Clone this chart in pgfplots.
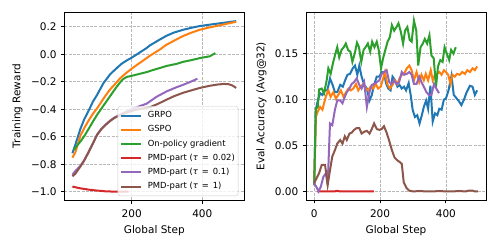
\documentclass[border=0pt]{standalone}
\usepackage{fontspec}
\setmainfont{DejaVu Sans}
\usepackage{pgfplots}
\pgfplotsset{compat=1.18}
\definecolor{cB}{HTML}{1F77B4}
\definecolor{cO}{HTML}{FF7F0E}
\definecolor{cG}{HTML}{2CA02C}
\definecolor{cR}{HTML}{D62728}
\definecolor{cP}{HTML}{9467BD}
\definecolor{cN}{HTML}{8C564B}
\newcommand{\tauq}[1]{({\itshape τ}\kern1.3pt\ =\ \kern1.3pt#1)}
\tikzset{pl/.style={draw=#1, line width=2pt, solid}}
\pgfplotsset{
 base/.style={
  scale only axis, width=180pt, height=187.7pt,
  font=\fontsize{10.5}{12.6}\selectfont,
  axis line style={line width=0.8pt},
  tick align=outside, tick pos=left,
  major tick length=3.5pt,
  every tick/.style={black, line width=0.8pt},
  grid=major,
  major grid style={line width=0.6pt, color=black!28, dash pattern=on 3pt off 1.3pt},
  xticklabel style={anchor=north, inner sep=0pt, yshift=-6.5pt},
  yticklabel style={anchor=east, inner sep=0pt, xshift=-4pt},
  xlabel style={at={(axis description cs:0.5,-0.176)}, anchor=base},
 }}
\begin{document}
\begin{tikzpicture}[x=1pt,y=1pt]
\useasboundingbox (0,0) rectangle (498,249);
\begin{axis}[base, at={(64.3pt,49pt)}, anchor=south west,
  xmin=9, xmax=519, ymin=-1.06, ymax=0.305,
  xtick={200,400}, xticklabels={200,400},
  ytick={-1,-0.8,-0.6,-0.4,-0.2,0,0.2},
  yticklabels={−1.0,−0.8,−0.6,−0.4,−0.2,0.0,0.2},
  xlabel={Global Step}, ylabel={Training Reward},
  ylabel style={at={(axis description cs:-0.26,0.5)}, anchor=center},
  legend style={at={(0.967,0.021)}, anchor=south east,
    font=\fontsize{8.4}{10}\selectfont, draw=black!20, fill=white, fill opacity=0.8,
    draw opacity=1, text opacity=1, rounded corners=2.5pt, inner xsep=2.3pt, inner ysep=4.2pt,
    row sep=4pt, column sep=4.7pt, cells={anchor=west},
    nodes={inner sep=1pt, text height=6.3pt, text depth=1.9pt}},
  legend image code/.code={\draw[#1,line width=2pt] (0pt,0pt) -- (20pt,0pt);},
]
\addplot[pl=cB] coordinates {(32,-0.72)(40,-0.66)(55,-0.54)(66,-0.47)(79,-0.405)(90,-0.345)(102,-0.295)(120,-0.21)(139,-0.145)(160,-0.095)(172,-0.068)(186,-0.045)(200,-0.025)(220,0.008)(242,0.045)(252,0.065)(275,0.1)(299,0.135)(320,0.158)(346,0.178)(370,0.193)(393,0.205)(420,0.215)(441,0.222)(470,0.232)(496,0.241)};
\addlegendentry{GRPO}
\addplot[pl=cO] coordinates {(32,-0.752)(40,-0.715)(55,-0.59)(66,-0.535)(79,-0.477)(91,-0.43)(102,-0.393)(126,-0.3)(139,-0.255)(150,-0.225)(167,-0.175)(185,-0.135)(200,-0.105)(220,-0.068)(233,-0.045)(252,-0.01)(280,0.035)(299,0.07)(327,0.108)(346,0.133)(370,0.158)(393,0.178)(420,0.195)(441,0.206)(470,0.222)(496,0.236)};
\addlegendentry{GSPO}
\addplot[pl=cG] coordinates {(36,-0.695)(45,-0.665)(55,-0.634)(67,-0.59)(79,-0.538)(90,-0.49)(102,-0.44)(121,-0.37)(140,-0.3)(155,-0.245)(167,-0.205)(176,-0.18)(186,-0.165)(200,-0.157)(214,-0.148)(242,-0.13)(260,-0.115)(280,-0.1)(299,-0.085)(327,-0.07)(346,-0.055)(374,-0.04)(393,-0.028)(421,-0.015)(437,0.008)};
\addlegendentry{On-policy gradient}
\addplot[pl=cR] coordinates {(32,-0.962)(50,-0.973)(64,-0.979)(79,-0.985)(100,-0.991)(126,-0.997)(150,-0.999)(163,-1.0)(191,-1.0)};
\addlegendentry{PMD-part \tauq{0.02}}
\addplot[pl=cP] coordinates {(32,-0.876)(40,-0.85)(46,-0.835)(55,-0.81)(65,-0.772)(79,-0.705)(90,-0.648)(102,-0.584)(114,-0.543)(126,-0.512)(138,-0.485)(150,-0.462)(170,-0.435)(190,-0.41)(210,-0.39)(225,-0.375)(242,-0.36)(270,-0.31)(299,-0.27)(327,-0.24)(346,-0.222)(370,-0.197)(386,-0.178)};
\addlegendentry{PMD-part \tauq{0.1}}
\addplot[pl=cN] coordinates {(32,-0.888)(40,-0.87)(55,-0.815)(65,-0.775)(79,-0.707)(90,-0.65)(102,-0.586)(114,-0.545)(126,-0.514)(138,-0.487)(150,-0.465)(170,-0.44)(190,-0.42)(210,-0.405)(230,-0.395)(252,-0.385)(275,-0.36)(299,-0.33)(320,-0.305)(346,-0.28)(370,-0.262)(393,-0.245)(420,-0.23)(441,-0.221)(460,-0.216)(475,-0.218)(486,-0.228)(496,-0.245)};
\addlegendentry{PMD-part \tauq{1}}
\end{axis}
\begin{axis}[base, at={(306pt,49pt)}, anchor=south west,
  xmin=-24.85, xmax=521.85, ymin=-0.0093, ymax=0.195,
  xtick={0,200,400}, xticklabels={0,200,400},
  ytick={0,0.05,0.1,0.15}, yticklabels={0.00,0.05,0.10,0.15},
  xlabel={Global Step}, ylabel={Eval Accuracy (Avg@32)},
  ylabel style={at={(axis description cs:-0.247,0.5)}, anchor=center},
]
\addplot[pl=cB] coordinates {(0,0.007)(5,0.089)(11,0.099)(18,0.107)(25,0.105)(33,0.11)(40,0.11)(48,0.123)(56,0.116)(63,0.108)(70,0.108)(79,0.116)(87,0.114)(94,0.121)(101,0.127)(109,0.128)(117,0.134)(124,0.137)(131,0.127)(137,0.137)(144,0.125)(152,0.116)(160,0.112)(168,0.099)(175,0.105)(182,0.116)(190,0.125)(198,0.125)(205,0.13)(212,0.13)(218,0.118)(225,0.112)(232,0.11)(238,0.125)(246,0.121)(253,0.114)(259,0.116)(266,0.112)(273,0.114)(279,0.11)(287,0.118)(294,0.103)(299,0.089)(306,0.081)(313,0.083)(320,0.074)(327,0.083)(333,0.092)(340,0.099)(346,0.09)(353,0.115)(360,0.076)(367,0.085)(374,0.083)(380,0.09)(387,0.089)(394,0.1)(400,0.101)(408,0.11)(417,0.126)(424,0.105)(431,0.102)(440,0.098)(447,0.094)(455,0.1)(463,0.108)(473,0.115)(481,0.114)(488,0.105)(495,0.11)};
\addplot[pl=cO] coordinates {(0,0.007)(5,0.081)(11,0.087)(18,0.092)(25,0.089)(30,0.096)(36,0.104)(43,0.11)(50,0.103)(58,0.108)(66,0.101)(73,0.105)(81,0.11)(89,0.103)(97,0.108)(104,0.112)(111,0.11)(119,0.112)(127,0.117)(134,0.11)(141,0.114)(149,0.117)(157,0.112)(164,0.11)(171,0.114)(179,0.112)(187,0.117)(194,0.112)(202,0.114)(208,0.121)(215,0.13)(222,0.117)(230,0.112)(238,0.116)(245,0.121)(253,0.117)(259,0.123)(266,0.127)(273,0.128)(281,0.134)(289,0.137)(296,0.132)(303,0.121)(311,0.13)(319,0.119)(326,0.127)(333,0.121)(339,0.128)(346,0.121)(354,0.132)(360,0.121)(367,0.127)(374,0.128)(380,0.13)(387,0.127)(394,0.132)(400,0.13)(407,0.127)(414,0.117)(420,0.127)(427,0.125)(434,0.128)(442,0.127)(450,0.13)(458,0.128)(465,0.132)(473,0.13)(481,0.134)(488,0.132)(495,0.136)};
\addplot[pl=cG] coordinates {(0,0.007)(5,0.09)(11,0.092)(15,0.111)(23,0.112)(30,0.107)(38,0.121)(43,0.134)(50,0.128)(58,0.141)(63,0.148)(70,0.157)(76,0.146)(83,0.154)(90,0.157)(96,0.161)(103,0.154)(110,0.152)(116,0.141)(123,0.15)(130,0.162)(136,0.157)(143,0.141)(150,0.154)(156,0.157)(163,0.161)(170,0.152)(176,0.163)(183,0.157)(190,0.163)(196,0.154)(203,0.134)(210,0.146)(216,0.154)(223,0.163)(230,0.168)(236,0.181)(243,0.175)(250,0.179)(256,0.183)(263,0.174)(270,0.161)(276,0.175)(283,0.179)(290,0.165)(296,0.163)(303,0.186)(310,0.175)(316,0.137)(323,0.157)(330,0.161)(336,0.166)(343,0.161)(350,0.17)(356,0.148)(363,0.145)(370,0.114)(376,0.136)(383,0.143)(390,0.141)(396,0.157)(403,0.15)(410,0.143)(416,0.154)(423,0.15)(430,0.157)};
\addplot[pl=cR] coordinates {(10,0)(20,0)(30,0)(40,0)(50,0)(60,0)(70,0.0006)(80,0)(90,0)(100,0)(110,0)(120,0)(130,0)(140,0)(150,0)(160,0)(170,0)(181,0)};
\addplot[pl=cP] coordinates {(0,0.009)(8,0.004)(13,0.0)(20,0.005)(28,0.016)(36,0.02)(41,0.007)(48,0.074)(55,0.072)(63,0.089)(70,0.099)(79,0.099)(86,0.096)(93,0.103)(99,0.108)(107,0.112)(114,0.117)(121,0.119)(129,0.123)(137,0.116)(144,0.112)(152,0.119)(160,0.092)(168,0.108)(175,0.116)(182,0.117)(190,0.119)(198,0.121)(205,0.128)(212,0.13)(220,0.132)(228,0.119)(235,0.117)(242,0.121)(250,0.117)(258,0.119)(266,0.13)(273,0.127)(281,0.128)(289,0.13)(296,0.127)(303,0.117)(311,0.117)(319,0.125)(326,0.119)(333,0.114)(341,0.108)(349,0.105)(356,0.105)(364,0.117)(371,0.112)(379,0.107)};
\addplot[pl=cN] coordinates {(0,0.009)(8,0.015)(15,0.02)(23,0.029)(33,0.029)(41,0.007)(48,0.023)(55,0.038)(63,0.045)(70,0.052)(79,0.056)(86,0.052)(93,0.06)(99,0.056)(107,0.063)(114,0.064)(121,0.067)(129,0.069)(137,0.069)(144,0.063)(152,0.065)(160,0.066)(168,0.063)(175,0.068)(182,0.074)(190,0.068)(198,0.067)(205,0.068)(212,0.071)(220,0.064)(228,0.055)(236,0.045)(244,0.037)(252,0.034)(260,0.032)(266,0.03)(272,0.01)(280,0.004)(288,0.001)(300,0.0)(320,0.0005)(340,0.0)(360,0.0)(380,0.0005)(400,0.0)(420,0.0)(440,0.0005)(460,0.0)(470,0.001)(480,0.001)(488,0.0)(497,0.0)};
\end{axis}
\end{tikzpicture}
\end{document}
